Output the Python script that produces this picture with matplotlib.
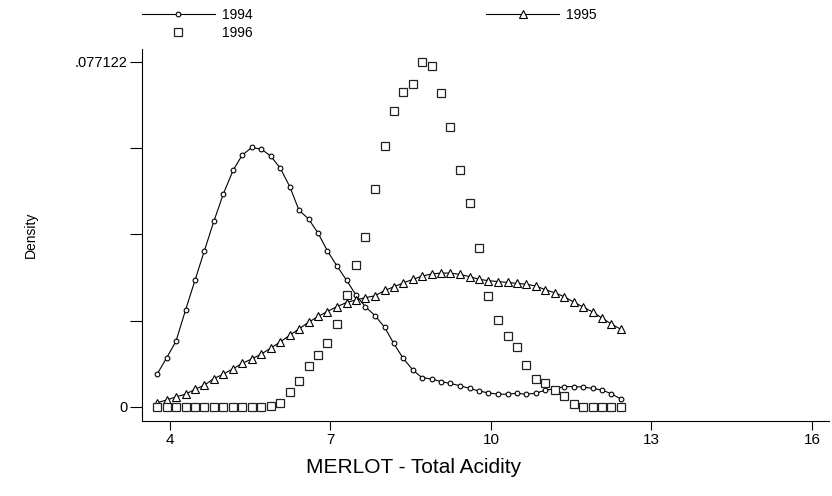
import matplotlib
matplotlib.use("Agg")
import matplotlib.pyplot as plt

plt.rcParams['font.family'] = ['Liberation Sans', 'DejaVu Sans']

# evaluation grid (Total Acidity)
acidity = [3.76, 3.94, 4.11, 4.29, 4.47, 4.64, 4.82, 5.00, 5.18, 5.35,
           5.53, 5.71, 5.88, 6.06, 6.24, 6.41, 6.59, 6.77, 6.94, 7.12,
           7.30, 7.48, 7.65, 7.83, 8.01, 8.18, 8.36, 8.54, 8.71, 8.89,
           9.07, 9.24, 9.42, 9.60, 9.78, 9.95, 10.13, 10.31, 10.48, 10.66,
           10.84, 11.01, 11.19, 11.37, 11.55, 11.72, 11.90, 12.08, 12.25, 12.43]

dens_1994 = [0.0073, 0.0110, 0.0146, 0.0216, 0.0284, 0.0348, 0.0415, 0.0477, 0.0529, 0.0563,
             0.0580, 0.0576, 0.0561, 0.0534, 0.0492, 0.0440, 0.0420, 0.0388, 0.0349, 0.0315,
             0.0283, 0.0249, 0.0224, 0.0204, 0.0178, 0.0142, 0.0108, 0.0082, 0.0065, 0.0062,
             0.0056, 0.0052, 0.0047, 0.0041, 0.0035, 0.0031, 0.0028, 0.0028, 0.0030, 0.0028,
             0.0030, 0.0037, 0.0040, 0.0045, 0.0045, 0.0044, 0.0041, 0.0037, 0.0029, 0.0017]

dens_1995 = [0.0009, 0.0015, 0.0022, 0.0028, 0.0039, 0.0048, 0.0063, 0.0073, 0.0085, 0.0097,
             0.0107, 0.0118, 0.0131, 0.0145, 0.0160, 0.0174, 0.0189, 0.0202, 0.0213, 0.0224,
             0.0233, 0.0239, 0.0244, 0.0248, 0.0260, 0.0268, 0.0277, 0.0285, 0.0292, 0.0297,
             0.0299, 0.0299, 0.0296, 0.0291, 0.0285, 0.0282, 0.0280, 0.0278, 0.0276, 0.0274,
             0.0270, 0.0262, 0.0255, 0.0246, 0.0234, 0.0223, 0.0212, 0.0198, 0.0185, 0.0173]

dens_1996 = [0.0, 0.0, 0.0, 0.0, 0.0, 0.0, 0.0, 0.0, 0.0, 0.0,
             0.0, 0.0, 0.0002, 0.0009, 0.0033, 0.0058, 0.0090, 0.0116, 0.0142, 0.0185,
             0.0250, 0.0316, 0.0380, 0.0486, 0.0583, 0.0662, 0.0705, 0.0721, 0.0771, 0.0762,
             0.0701, 0.0626, 0.0529, 0.0455, 0.0356, 0.0247, 0.0195, 0.0158, 0.0134, 0.0093,
             0.0063, 0.0052, 0.0037, 0.0024, 0.0005, 0.0, 0.0, 0.0, 0.0, 0.0]

x_ticks = [4, 7, 10, 13, 16]
y_ticks = [0, 0.0192805, 0.038561, 0.0578415, 0.077122]
y_tick_labels = ['0', '', '', '', '.077122']

W, H = 832, 496
fig = plt.figure(figsize=(W / 100, H / 100), dpi=100)
left_px, right_px, top_px, bottom_px = 141.7, 829, 49, 420.7
ax = fig.add_axes([left_px / W, 1 - bottom_px / H,
                   (right_px - left_px) / W, (bottom_px - top_px) / H])

l94, = ax.plot(acidity, dens_1994, '-', color='black', lw=0.8,
               marker='o', ms=3.4, mfc='white', mec='black', mew=0.8, label='1994')
l95, = ax.plot(acidity, dens_1995, '-', color='black', lw=0.8,
               marker='^', ms=5.5, mfc='white', mec='black', mew=0.8, label='1995')
l96, = ax.plot(acidity, dens_1996, linestyle='none', marker='s', ms=6,
               mfc='white', mec='#222222', mew=0.9, label='1996')

ax.set_xlim(3.471, 16.318)
ax.set_ylim(-0.00313, 0.08003)
ax.set_xticks(x_ticks)
ax.set_xticklabels([str(t) for t in x_ticks])
ax.set_yticks(y_ticks)
ax.set_yticklabels(y_tick_labels)

for s in ['top', 'right']:
    ax.spines[s].set_visible(False)
for s in ['left', 'bottom']:
    ax.spines[s].set_linewidth(0.8)

ax.tick_params(axis='x', direction='out', length=6.7, width=0.8, pad=2, labelsize=11)
ax.tick_params(axis='y', direction='out', length=8.4, width=0.8, pad=2, labelsize=10.5)

ax.set_xlabel('MERLOT - Total Acidity', fontsize=15, va='center', ha='center')
ax.xaxis.set_label_coords(0.3955, -0.1246)
ax.set_ylabel('Density', fontsize=10, va='center', ha='center')
ax.yaxis.set_label_coords(-0.161, 0.5)

fs = 10
leg = fig.legend([l94, l96, l95], ['1994', '1996', '1995'], ncol=2,
                 loc='upper left', bbox_to_anchor=(141.5 / W, 1 - 8 / H),
                 frameon=False, fontsize=fs, handlelength=5.29, handletextpad=0.5,
                 columnspacing=16.8, labelspacing=0.26, borderpad=0, borderaxespad=0,
                 numpoints=1)

fig.savefig('out.png', dpi=100)
